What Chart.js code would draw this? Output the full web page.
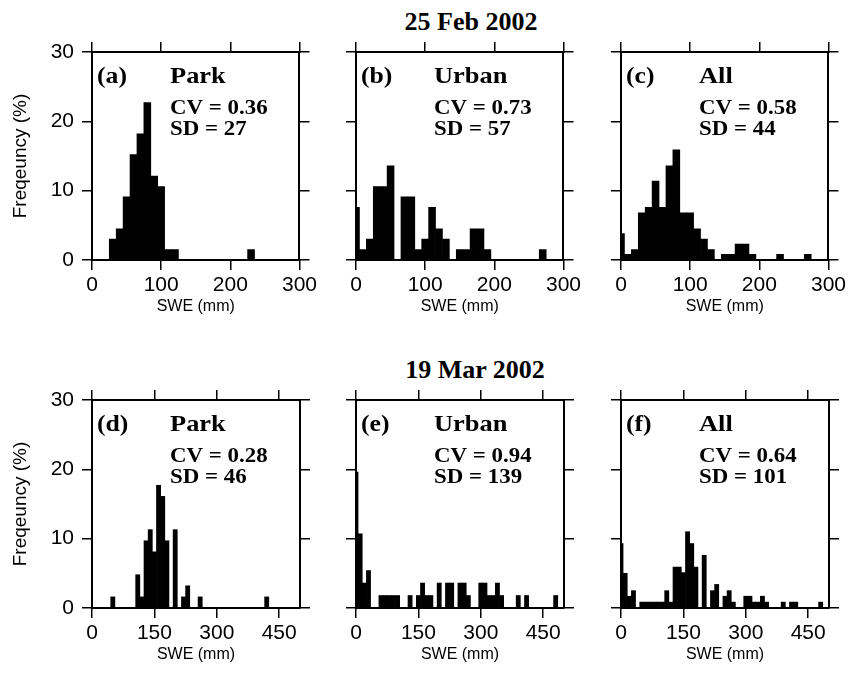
<!DOCTYPE html>
<html>
<head>
<meta charset="utf-8">
<script src="https://cdn.jsdelivr.net/npm/chart.js@4.4.1/dist/chart.umd.min.js"></script>
<style>
  html, body { margin: 0; padding: 0; background: #fff; }
  #wrap { position: relative; width: 855px; height: 687px; overflow: hidden; background: #fff; }
  #wrap canvas { position: absolute; }
  .rowTitle { position: absolute; font: bold 26px "Liberation Serif", serif; line-height: 26px; color: #000; white-space: nowrap; transform: translateX(-50%); }
</style>
</head>
<body>
<div id="wrap">
  <div class="rowTitle" style="left:471px; top:9px;">25 Feb 2002</div>
  <div class="rowTitle" style="left:475px; top:357px;">19 Mar 2002</div>
</div>
<script>
// tick labels
const febTicks = [0, 100, 200, 300];
const marTicks = [0, 150, 300, 450];
const freqTicks = [0, 10, 20, 30];

// 25 Feb 2002 - bin centres (mm) and frequency (%)
const parkFebSWE = [30, 40, 50, 60, 70, 80, 90, 100, 110, 120, 230];
const parkFebPct = [3.0, 4.5, 9.1, 15.2, 18.2, 22.7, 12.1, 10.6, 1.5, 1.5, 1.5];

const urbanFebSWE = [0, 10, 20, 30, 40, 50, 70, 80, 90, 100, 110, 120, 130, 150, 160, 170, 180, 190, 270];
const urbanFebPct = [7.6, 1.5, 3.0, 10.6, 10.6, 13.6, 9.1, 9.1, 1.5, 3.0, 7.6, 4.5, 3.0, 1.5, 1.5, 4.5, 4.5, 1.5, 1.5];

const allFebSWE = [0, 10, 20, 30, 40, 50, 60, 70, 80, 90, 100, 110, 120, 130, 150, 160, 170, 180, 190, 230, 270];
const allFebPct = [3.8, 0.8, 1.5, 6.8, 7.6, 11.4, 7.6, 13.6, 15.9, 6.8, 6.8, 4.5, 3.0, 1.5, 0.8, 0.8, 2.3, 2.3, 0.8, 0.8, 0.8];

// 19 Mar 2002
const parkMarSWE = [50, 110, 120, 130, 140, 150, 160, 170, 180, 200, 220, 230, 260, 420];
const parkMarPct = [1.6, 4.8, 1.6, 9.7, 11.3, 8.1, 17.7, 16.1, 9.7, 11.3, 1.6, 3.2, 1.6, 1.6];

const urbanMarSWE = [0, 10, 20, 30, 60, 70, 80, 90, 100, 130, 150, 160, 170, 180, 200, 220, 230, 250, 260, 270, 300, 310, 320, 330, 340, 350, 390, 410, 480];
const urbanMarPct = [19.6, 10.7, 3.6, 5.4, 1.8, 1.8, 1.8, 1.8, 1.8, 1.8, 1.8, 3.6, 1.8, 1.8, 3.6, 3.6, 3.6, 3.6, 3.6, 1.8, 3.6, 3.6, 1.8, 1.8, 3.6, 1.8, 1.8, 1.8, 1.8];

const allMarSWE = [0, 10, 20, 30, 50, 60, 70, 80, 90, 100, 110, 120, 130, 140, 150, 160, 170, 180, 200, 220, 230, 250, 260, 270, 300, 310, 320, 330, 340, 350, 390, 410, 420, 480];
const allMarPct = [9.3, 5.0, 1.7, 2.5, 0.85, 0.85, 0.85, 0.85, 0.85, 0.85, 2.5, 0.85, 5.9, 5.9, 5.1, 11.0, 9.3, 5.9, 7.6, 2.5, 3.4, 1.7, 2.5, 0.85, 1.7, 1.7, 0.85, 0.85, 1.7, 0.85, 0.85, 0.85, 0.85, 0.85];

const panels = [
  { tag: '(a)', name: 'Park',  cv: 'CV = 0.36', sd: 'SD = 27',  swe: parkFebSWE,  pct: parkFebPct,  xmax: 300, xticks: febTicks, left: 92,  top: 52,  first: true },
  { tag: '(b)', name: 'Urban', cv: 'CV = 0.73', sd: 'SD = 57',  swe: urbanFebSWE, pct: urbanFebPct, xmax: 300, xticks: febTicks, left: 356, top: 52,  first: false },
  { tag: '(c)', name: 'All',   cv: 'CV = 0.58', sd: 'SD = 44',  swe: allFebSWE,   pct: allFebPct,   xmax: 300, xticks: febTicks, left: 621, top: 52,  first: false },
  { tag: '(d)', name: 'Park',  cv: 'CV = 0.28', sd: 'SD = 46',  swe: parkMarSWE,  pct: parkMarPct,  xmax: 500, xticks: marTicks, left: 92,  top: 400, first: true },
  { tag: '(e)', name: 'Urban', cv: 'CV = 0.94', sd: 'SD = 139', swe: urbanMarSWE, pct: urbanMarPct, xmax: 500, xticks: marTicks, left: 356, top: 400, first: false },
  { tag: '(f)', name: 'All',   cv: 'CV = 0.64', sd: 'SD = 101', swe: allMarSWE,   pct: allMarPct,   xmax: 500, xticks: marTicks, left: 621, top: 400, first: false }
];

// layout sizes around each 208x208 plot box
const LEFT_W = 92, RIGHT_W = 20, TOP_H = 24, BOTTOM_H = 62, PLOT = 208;
const SANS = '"Liberation Sans", Arial, sans-serif';
const SERIF = '"Liberation Serif", "Times New Roman", serif';

// stretched text, the figure's bold Times is a bit wider than Liberation Serif
function wideText(ctx, str, x, y, sx) {
  ctx.save();
  ctx.translate(x, y);
  ctx.scale(sx, 1);
  ctx.fillText(str, 0, 0);
  ctx.restore();
}

// labels drawn inside each panel
const panelText = {
  id: 'panelText',
  afterDraw(chart, args, o) {
    const { ctx, chartArea: a } = chart;
    ctx.save();
    ctx.fillStyle = '#000';
    ctx.textBaseline = 'alphabetic';
    ctx.textAlign = 'left';
    ctx.font = 'bold 24px ' + SERIF;
    wideText(ctx, o.tag, a.left + 5, a.top + 31, 1.07);
    wideText(ctx, o.name, a.left + 78, a.top + 31, 1.1);
    ctx.font = 'bold 21px ' + SERIF;
    wideText(ctx, o.cv, a.left + 78, a.top + 62, 1.09);
    wideText(ctx, o.sd, a.left + 78, a.top + 83, 1.09);
    ctx.restore();
  }
};

const grid = { drawOnChartArea: false, drawTicks: true, tickLength: 10, color: '#000', lineWidth: 1.5, offset: false };
const border = { display: true, color: '#000', width: 2 };
const setTicks = (arr) => (s) => { s.ticks = arr.map(v => ({ value: v })); };

function makePanel(p) {
  const canvas = document.createElement('canvas');
  canvas.width = LEFT_W + PLOT + RIGHT_W;
  canvas.height = TOP_H + PLOT + BOTTOM_H;
  canvas.style.left = (p.left - LEFT_W) + 'px';
  canvas.style.top = (p.top - TOP_H) + 'px';
  document.getElementById('wrap').appendChild(canvas);

  new Chart(canvas, {
    type: 'bar',
    data: {
      datasets: [{
        data: p.swe.map((x, i) => ({ x: x, y: p.pct[i] })),
        backgroundColor: '#000',
        borderWidth: 0,
        barPercentage: 1,
        categoryPercentage: 1
      }]
    },
    options: {
      responsive: false,
      animation: false,
      layout: { padding: 0 },
      plugins: {
        legend: { display: false },
        tooltip: { enabled: false },
        panelText: { tag: p.tag, name: p.name, cv: p.cv, sd: p.sd }
      },
      scales: {
        x: {
          type: 'linear', position: 'bottom', min: 0, max: p.xmax, offset: false,
          afterBuildTicks: setTicks(p.xticks),
          afterFit: (s) => { s.height = BOTTOM_H; },
          grid: grid, border: border,
          ticks: { color: '#000', font: { family: SANS, size: 21 }, padding: 3, maxRotation: 0, autoSkip: false },
          title: { display: true, text: 'SWE (mm)', color: '#000', font: { family: SANS, size: 16 }, padding: { top: 0, bottom: 6 } }
        },
        x2: {
          type: 'linear', position: 'top', min: 0, max: p.xmax, offset: false,
          afterBuildTicks: setTicks(p.xticks),
          afterFit: (s) => { s.height = TOP_H; },
          grid: grid, border: border,
          ticks: { display: false }
        },
        y: {
          type: 'linear', position: 'left', min: 0, max: 30,
          afterBuildTicks: setTicks(freqTicks),
          afterFit: (s) => { s.width = LEFT_W; },
          grid: grid, border: border,
          ticks: { display: p.first, color: '#000', font: { family: SANS, size: 21 }, padding: 8 },
          title: { display: p.first, text: 'Freqeuncy (%)', color: '#000', font: { family: SANS, size: 19 }, padding: { top: 9, bottom: 0 } }
        },
        y2: {
          type: 'linear', position: 'right', min: 0, max: 30,
          afterBuildTicks: setTicks(freqTicks),
          afterFit: (s) => { s.width = RIGHT_W; },
          grid: grid, border: border,
          ticks: { display: false }
        }
      }
    },
    plugins: [panelText]
  });
}

panels.forEach(makePanel);
</script>
</body>
</html>
